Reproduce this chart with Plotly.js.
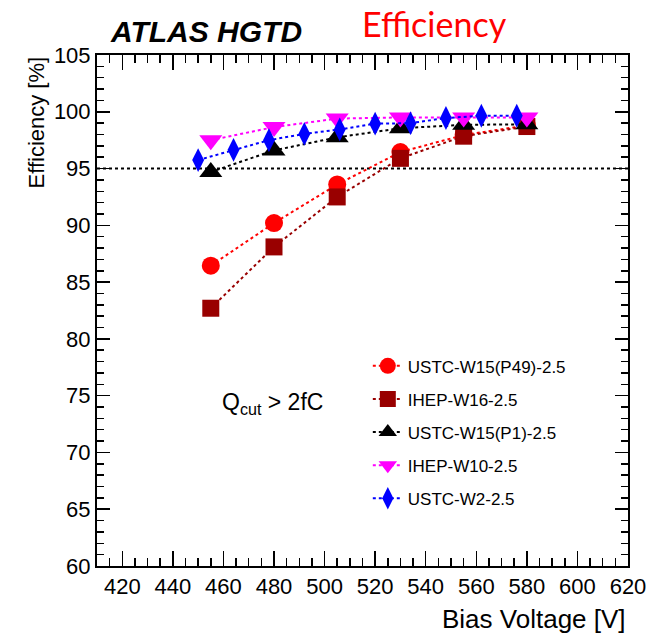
<!DOCTYPE html>
<html>
<head>
<meta charset="utf-8">
<script src="https://cdn.plot.ly/plotly-3.0.1.min.js"></script>
<style>html,body{margin:0;padding:0;background:#fff;}#chart{width:664px;height:636px;}</style>
</head>
<body>
<div id="chart"></div>
<script>
// ---- data ----
const seriesNames = ["USTC-W15(P49)-2.5", "IHEP-W16-2.5", "USTC-W15(P1)-2.5", "IHEP-W10-2.5", "USTC-W2-2.5"];
const voltStd = [455, 480, 505, 530, 555, 580];
const effUSTC_W15_P49 = [86.45, 90.2, 93.6, 96.45, 97.95, 98.8];
const effIHEP_W16 = [82.7, 88.1, 92.5, 95.9, 97.85, 98.7];
const effUSTC_W15_P1 = [94.7, 96.6, 97.75, 98.55, 98.85, 98.9];
const effIHEP_W10 = [97.5, 98.65, 99.4, 99.5, 99.5, 99.5];
const voltW2 = [450, 464, 478, 492, 506, 520, 534, 548, 562, 576];
const effUSTC_W2 = [95.75, 96.65, 97.5, 98.05, 98.45, 98.95, 99.0, 99.45, 99.65, 99.65];
const threshold95 = 95;
const xTickVals = [420, 440, 460, 480, 500, 520, 540, 560, 580, 600, 620];
const yTickVals = [60, 65, 70, 75, 80, 85, 90, 95, 100, 105];

const FONT = "Liberation Sans, Arial, Helvetica, sans-serif";

function tr(name, x, y, color, symbol, size, group) {
  return {
    type: "scatter", mode: "lines+markers", name: name, x: x, y: y,
    legendgroup: group,
    line: {color: color, width: 2, dash: "dot"},
    marker: {color: color, symbol: symbol, size: size, line: {width: 0}}
  };
}

const data = [
  tr(seriesNames[0], voltStd, effUSTC_W15_P49, "#ff0000", "circle", 18, "a"),
  tr(seriesNames[1], voltStd, effIHEP_W16, "#990000", "square", 17, "b"),
  tr(seriesNames[2], voltStd, effUSTC_W15_P1, "#000000", "triangle-up", 20, "c"),
  tr(seriesNames[3], voltStd, effIHEP_W10, "#ff00ff", "triangle-down", 20, "d"),
  tr(seriesNames[4], voltW2, effUSTC_W2, "#0000ff", "diamond-tall", 17, "e")
];

const layout = {
  width: 664, height: 636,
  margin: {l: 97, r: 36, t: 55, b: 70, pad: 0},
  paper_bgcolor: "#ffffff", plot_bgcolor: "#ffffff",
  font: {family: FONT, color: "#000"},
  showlegend: true,
  legend: {
    x: 0.51, y: 0.426, xanchor: "left", yanchor: "top",
    font: {family: FONT, size: 17, color: "#000"},
    bgcolor: "rgba(255,255,255,0)", borderwidth: 0,
    traceorder: "grouped", tracegroupgap: 8
  },
  xaxis: {
    range: [410, 620], tickmode: "array", tickvals: xTickVals,
    ticks: "inside", ticklen: 15, tickwidth: 1.5, tickcolor: "#000",
    minor: {dtick: 5, tick0: 410, ticks: "inside", ticklen: 8, tickwidth: 1.5, tickcolor: "#000"},
    showline: true, linecolor: "#000", linewidth: 2, mirror: "ticks",
    showgrid: false, zeroline: false,
    tickfont: {family: FONT, size: 22, color: "#000"}
  },
  yaxis: {
    range: [60, 105], tickmode: "array", tickvals: yTickVals,
    ticks: "inside", ticklen: 13, tickwidth: 1.5, tickcolor: "#000",
    minor: {dtick: 1, tick0: 60, ticks: "inside", ticklen: 7, tickwidth: 1.5, tickcolor: "#000"},
    showline: true, linecolor: "#000", linewidth: 2, mirror: "ticks",
    showgrid: false, zeroline: false,
    tickfont: {family: FONT, size: 22, color: "#000"}
  },
  shapes: [{
    type: "line", xref: "paper", yref: "y", x0: 0, x1: 1, y0: threshold95, y1: threshold95,
    line: {color: "#000", width: 2, dash: "dot"}, layer: "below"
  }],
  annotations: [
    {text: "<b><i>ATLAS HGTD</i></b>", xref: "paper", yref: "paper", x: 0.02, y: 1.0, xanchor: "left", yanchor: "bottom",
     yshift: 5, showarrow: false, font: {family: FONT, size: 30, color: "#000"}},
    {text: "Efficiency", xref: "paper", yref: "paper", x: 0.495, y: 1.0, xanchor: "left", yanchor: "bottom",
     yshift: 9, showarrow: false, font: {family: "Lato, Carlito, sans-serif", size: 34, color: "#ff0000"}},
    {text: "Efficiency [%]", xref: "paper", yref: "paper", x: 0, y: 1, xanchor: "right", yanchor: "top",
     xshift: -47, textangle: -90, showarrow: false, font: {family: FONT, size: 22, color: "#000"}},
    {text: "Bias Voltage [V]", xref: "paper", yref: "paper", x: 1, y: 0, xanchor: "right", yanchor: "top",
     yshift: -36, showarrow: false, font: {family: FONT, size: 26, color: "#000"}},
    {text: "Q<sub>cut</sub> &gt; 2fC", xref: "paper", yref: "paper", x: 0.33, y: 0.318, xanchor: "center", yanchor: "middle",
     showarrow: false, font: {family: FONT, size: 23, color: "#000"}}
  ]
};

Plotly.newPlot("chart", data, layout, {displayModeBar: false, staticPlot: true});
</script>
</body>
</html>
